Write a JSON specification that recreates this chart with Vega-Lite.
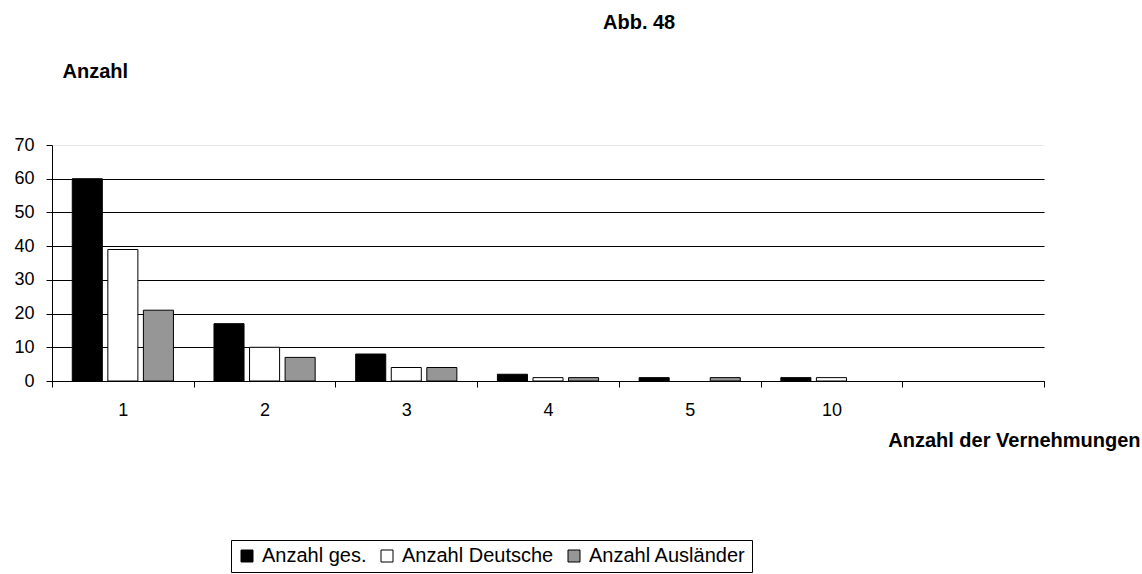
{
  "$schema": "https://vega.github.io/schema/vega-lite/v6.json",
  "autosize": {"type": "none"},
  "width": 992,
  "height": 236,
  "padding": {"left": 52, "top": 145, "right": 98, "bottom": 193},
  "background": "white",
  "title": {
    "text": "Abb. 48",
    "anchor": "start",
    "frame": "group",
    "font": "Liberation Sans",
    "fontSize": 20,
    "fontWeight": "bold",
    "color": "black",
    "baseline": "top",
    "dx": 551,
    "dy": -28,
    "offset": 0
  },
  "data": {
    "values": [
      {"Vernehmungen": "1", "Gruppe": "Anzahl ges.", "Anzahl": 60},
      {"Vernehmungen": "1", "Gruppe": "Anzahl Deutsche", "Anzahl": 39},
      {"Vernehmungen": "1", "Gruppe": "Anzahl Ausländer", "Anzahl": 21},
      {"Vernehmungen": "2", "Gruppe": "Anzahl ges.", "Anzahl": 17},
      {"Vernehmungen": "2", "Gruppe": "Anzahl Deutsche", "Anzahl": 10},
      {"Vernehmungen": "2", "Gruppe": "Anzahl Ausländer", "Anzahl": 7},
      {"Vernehmungen": "3", "Gruppe": "Anzahl ges.", "Anzahl": 8},
      {"Vernehmungen": "3", "Gruppe": "Anzahl Deutsche", "Anzahl": 4},
      {"Vernehmungen": "3", "Gruppe": "Anzahl Ausländer", "Anzahl": 4},
      {"Vernehmungen": "4", "Gruppe": "Anzahl ges.", "Anzahl": 2},
      {"Vernehmungen": "4", "Gruppe": "Anzahl Deutsche", "Anzahl": 1},
      {"Vernehmungen": "4", "Gruppe": "Anzahl Ausländer", "Anzahl": 1},
      {"Vernehmungen": "5", "Gruppe": "Anzahl ges.", "Anzahl": 1},
      {"Vernehmungen": "5", "Gruppe": "Anzahl Deutsche", "Anzahl": 0},
      {"Vernehmungen": "5", "Gruppe": "Anzahl Ausländer", "Anzahl": 1},
      {"Vernehmungen": "10", "Gruppe": "Anzahl ges.", "Anzahl": 1},
      {"Vernehmungen": "10", "Gruppe": "Anzahl Deutsche", "Anzahl": 1},
      {"Vernehmungen": "10", "Gruppe": "Anzahl Ausländer", "Anzahl": 0}
    ]
  },
  "mark": {"type": "bar", "stroke": "black", "strokeWidth": 1},
  "encoding": {
    "x": {
      "field": "Vernehmungen",
      "type": "nominal",
      "scale": {"domain": ["1", "2", "3", "4", "5", "10", ""], "paddingInner": 0, "paddingOuter": 0},
      "axis": {
        "title": "Anzahl der Vernehmungen",
        "titleFont": "Liberation Sans",
        "titleFontSize": 20,
        "titleFontWeight": "bold",
        "titleColor": "black",
        "titleAlign": "right",
        "titleAnchor": null,
        "titleX": 1088,
        "titleY": 59,
        "titleBaseline": "middle",
        "labelAngle": 0,
        "labelFont": "Liberation Sans",
        "labelFontSize": 18,
        "labelColor": "black",
        "labelPadding": 14,
        "tickBand": "extent",
        "tickSize": 6,
        "tickColor": "black",
        "domainColor": "black",
        "grid": false
      }
    },
    "xOffset": {
      "field": "Gruppe",
      "type": "nominal",
      "sort": ["Anzahl ges.", "Anzahl Deutsche", "Anzahl Ausländer"],
      "scale": {"paddingInner": 0.155, "paddingOuter": 0.57}
    },
    "y": {
      "field": "Anzahl",
      "type": "quantitative",
      "scale": {"domain": [0, 70], "nice": false},
      "axis": {
        "values": [0, 10, 20, 30, 40, 50, 60, 70],
        "title": "Anzahl",
        "titleAngle": 0,
        "titleAlign": "left",
        "titleAnchor": null,
        "titleBaseline": "middle",
        "titleX": 10,
        "titleY": -74,
        "titleFont": "Liberation Sans",
        "titleFontSize": 20,
        "titleFontWeight": "bold",
        "titleColor": "black",
        "labelFont": "Liberation Sans",
        "labelFontSize": 18,
        "labelColor": "black",
        "labelPadding": 12,
        "tickSize": 6,
        "tickColor": "black",
        "domainColor": "black",
        "grid": true,
        "gridColor": {"condition": {"test": "datum.value == 70", "value": "#e8e8e8"}, "value": "black"},
        "gridOpacity": 1
      }
    },
    "strokeOpacity": {
      "condition": {"test": "datum.Anzahl == 0", "value": 0},
      "value": 1
    },
    "color": {
      "field": "Gruppe",
      "type": "nominal",
      "sort": ["Anzahl ges.", "Anzahl Deutsche", "Anzahl Ausländer"],
      "scale": {"domain": ["Anzahl ges.", "Anzahl Deutsche", "Anzahl Ausländer"], "range": ["#000000", "#ffffff", "#969696"]},
      "legend": {
        "title": null,
        "orient": "none",
        "direction": "horizontal",
        "legendX": 179,
        "legendY": 395,
        "symbolType": "square",
        "symbolSize": 144,
        "symbolStrokeColor": "black",
        "symbolStrokeWidth": 1,
        "symbolOpacity": 1,
        "labelFont": "Liberation Sans",
        "labelFontSize": 20,
        "labelColor": "black",
        "labelOffset": 5,
        "columnPadding": 10,
        "strokeColor": "black",
        "fillColor": "white",
        "padding": 6
      }
    }
  },
  "config": {
    "view": {"stroke": null}
  }
}
